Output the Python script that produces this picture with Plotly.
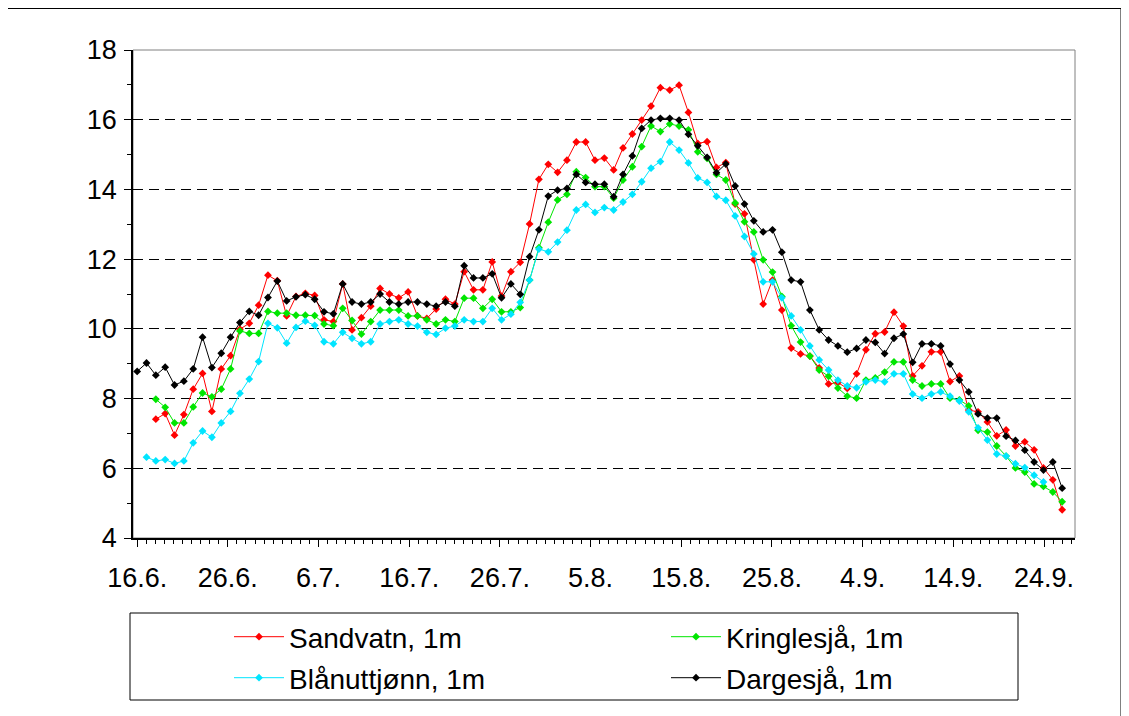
import pandas as pd
import plotly.graph_objects as go

# Sampling: 100 daily-ish readings between the first and last date on the chart
FIRST_DAY = '2005-06-16'
LAST_DAY = '2005-09-26'
N_READINGS = 100

TICK_DATES = ['2005-06-16', '2005-06-26', '2005-07-06', '2005-07-16', '2005-07-26', '2005-08-05',
              '2005-08-15', '2005-08-25', '2005-09-04', '2005-09-14', '2005-09-24']
TICK_LABELS = ['16.6.', '26.6.', '6.7.', '16.7.', '26.7.', '5.8.',
               '15.8.', '25.8.', '4.9.', '14.9.', '24.9.']

# Water temperature at 1 m (deg C), one value per reading, None = no reading
SANDVATN = [
    None, None, 7.41, 7.57, 6.95, 7.54, 8.27, 8.72, 7.63, 8.85,
    9.23, 9.99, 10.16, 10.68, 11.54, 11.38, 10.37, 10.93, 11.02, 10.96,
    10.26, 10.21, 11.29, 9.97, 10.32, 10.65, 11.16, 11.00, 10.89, 11.06,
    10.37, 10.30, 10.57, 10.85, 10.71, 11.64, 11.12, 11.12, 11.92, 10.94,
    11.64, 11.91, 13.01, 14.29, 14.72, 14.49, 14.84, 15.36, 15.36, 14.84,
    14.90, 14.56, 15.19, 15.59, 15.99, 16.39, 16.92, 16.85, 16.99, 16.21,
    15.32, 15.37, 14.63, 14.77, 13.58, 13.30, 11.98, 10.71, 11.40, 10.54,
    9.45, 9.28, 9.22, 8.88, 8.42, 8.46, 8.29, 8.71, 9.40, 9.86,
    9.91, 10.48, 10.08, 8.65, 8.94, 9.34, 9.34, 8.49, 8.65, 7.67,
    7.62, 7.33, 6.93, 7.10, 6.64, 6.76, 6.53, 6.01, 5.67, 4.81,
]
KRINGLESJA = [
    None, None, 7.98, 7.75, 7.30, 7.30, 7.76, 8.16, 8.05, 8.27,
    8.85, 9.94, 9.87, 9.87, 10.50, 10.45, 10.45, 10.39, 10.39, 10.38,
    10.14, 10.09, 10.59, 10.24, 9.85, 10.21, 10.54, 10.54, 10.54, 10.37,
    10.37, 10.26, 10.14, 10.26, 10.21, 10.88, 10.88, 10.59, 10.85, 10.49,
    10.49, 10.61, 11.40, 12.33, 13.06, 13.70, 13.86, 14.51, 14.34, 14.08,
    14.08, 13.75, 14.27, 14.65, 15.23, 15.82, 15.66, 15.88, 15.82, 15.71,
    15.08, 14.89, 14.43, 14.27, 13.61, 13.07, 12.78, 11.98, 11.63, 10.93,
    10.09, 9.62, 9.22, 8.82, 8.64, 8.30, 8.07, 8.01, 8.53, 8.59,
    8.76, 9.05, 9.05, 8.53, 8.36, 8.42, 8.42, 8.01, 7.96, 7.79,
    7.09, 7.04, 6.64, 6.35, 6.01, 5.89, 5.55, 5.48, 5.32, 5.04,
]
BLANUTTJONN = [
    None, 6.32, 6.21, 6.25, 6.14, 6.21, 6.73, 7.07, 6.89, 7.30,
    7.63, 8.15, 8.56, 9.06, 10.16, 10.03, 9.59, 10.04, 10.22, 10.10,
    9.63, 9.57, 9.90, 9.73, 9.57, 9.63, 10.14, 10.21, 10.26, 10.14,
    10.08, 9.90, 9.84, 10.02, 10.08, 10.26, 10.21, 10.21, 10.59, 10.26,
    10.42, 10.76, 11.40, 12.29, 12.21, 12.49, 12.83, 13.41, 13.57, 13.34,
    13.48, 13.41, 13.64, 13.86, 14.22, 14.61, 14.80, 15.36, 15.13, 14.76,
    14.33, 14.20, 13.80, 13.69, 13.24, 12.65, 12.15, 11.35, 11.35, 10.89,
    10.37, 9.97, 9.51, 9.11, 8.82, 8.53, 8.36, 8.31, 8.48, 8.53,
    8.48, 8.71, 8.71, 8.13, 8.01, 8.13, 8.19, 8.07, 7.93, 7.62,
    7.16, 6.81, 6.41, 6.35, 6.13, 6.02, 5.80, 5.61, None, None,
]
DARGESJA = [
    8.78, 9.02, 8.67, 8.90, 8.39, 8.50, 8.85, 9.76, 8.89, 9.30,
    9.76, 10.18, 10.50, 10.39, 10.90, 11.37, 10.80, 10.92, 10.98, 10.85,
    10.49, 10.43, 11.29, 10.77, 10.71, 10.77, 11.00, 10.77, 10.71, 10.77,
    10.77, 10.71, 10.65, 10.77, 10.65, 11.81, 11.46, 11.46, 11.58, 10.89,
    11.29, 10.99, 12.07, 12.84, 13.81, 13.98, 14.03, 14.43, 14.20, 14.15,
    14.15, 13.79, 14.43, 14.96, 15.75, 15.99, 16.04, 16.04, 15.99, 15.58,
    15.25, 14.92, 14.48, 14.73, 14.10, 13.58, 13.10, 12.78, 12.84, 12.20,
    11.40, 11.35, 10.54, 9.97, 9.68, 9.51, 9.33, 9.44, 9.68, 9.61,
    9.29, 9.73, 9.85, 9.04, 9.57, 9.57, 9.51, 8.99, 8.53, 8.19,
    7.56, 7.44, 7.44, 6.92, 6.80, 6.52, 6.18, 5.95, 6.18, 5.43,
]

# name, values, colour, legend slot, legend entry position on the page (px)
SERIES = [
    ('Sandvatn, 1m', SANDVATN, '#FF0000', 'legend', (229, 637)),
    ('Kringlesjå, 1m', KRINGLESJA, '#00E600', 'legend2', (666, 637)),
    ('Blånuttjønn, 1m', BLANUTTJONN, '#00E5FF', 'legend3', (229, 678)),
    ('Dargesjå, 1m', DARGESJA, '#000000', 'legend4', (666, 678)),
]

FONT = 'Liberation Sans, Arial, sans-serif'
PAGE_OFFSET = 8          # default body margin of the written html page
W, H = 1129 - PAGE_OFFSET, 716 - PAGE_OFFSET
# plot area on the page, in px
PLOT_L, PLOT_R, PLOT_T, PLOT_B = 133, 1075, 50, 538


def px_x(px):
    return (px - PLOT_L) / (PLOT_R - PLOT_L)


def px_y(py):
    return (PLOT_B - py) / (PLOT_B - PLOT_T)


def build_figure():
    dates = pd.date_range(FIRST_DAY, LAST_DAY, periods=N_READINGS)
    fig = go.Figure()
    legends = {}

    for name, values, color, legend, (lx, ly) in SERIES:
        fig.add_trace(go.Scatter(
            x=dates, y=values, name=name, mode='lines+markers',
            line=dict(color=color, width=1),
            marker=dict(symbol='diamond', size=6, color=color),
            connectgaps=False, legend=legend,
        ))
        legends[legend] = dict(
            xref='container', yref='container',
            x=(lx - PAGE_OFFSET) / W, y=1 - (ly - PAGE_OFFSET) / H,
            xanchor='left', yanchor='middle',
            orientation='h', itemwidth=50,
            font=dict(family=FONT, size=28, color='black'),
            bgcolor='rgba(0,0,0,0)', borderwidth=0,
        )

    fig.update_layout(
        width=W, height=H,
        margin=dict(l=PLOT_L - PAGE_OFFSET, r=W + PAGE_OFFSET - PLOT_R,
                    t=PLOT_T - PAGE_OFFSET, b=H + PAGE_OFFSET - PLOT_B,
                    pad=0, autoexpand=False),
        paper_bgcolor='white', plot_bgcolor='white',
        font=dict(family=FONT, size=27, color='black'),
        showlegend=True,
        **legends,
        xaxis=dict(
            type='date',
            range=['2005-06-15 13:00', '2005-09-27 10:00'],
            tickmode='array', tickvals=TICK_DATES, ticktext=TICK_LABELS,
            ticks='outside', ticklen=7, tickcolor='black',
            ticklabelstandoff=8,
            minor=dict(ticks='outside', ticklen=4, tickcolor='black',
                       dtick=86400000, tick0=FIRST_DAY, showgrid=False),
            showgrid=False, zeroline=False,
            showline=True, linecolor='black', linewidth=1.5,
            tickfont=dict(family=FONT, size=27, color='black'),
        ),
        yaxis=dict(
            range=[4, 18], dtick=2, tick0=4,
            ticks='outside', ticklen=7, tickcolor='black',
            ticklabelstandoff=2,
            minor=dict(ticks='outside', ticklen=4, tickcolor='black',
                       dtick=1, showgrid=False),
            showgrid=True, gridcolor='black', gridwidth=1, griddash='10px,6px',
            zeroline=False,
            showline=True, linecolor='black', linewidth=1.5,
            tickfont=dict(family=FONT, size=27, color='black'),
        ),
    )

    # plot area border (top and right, gray)
    fig.add_shape(type='rect', xref='paper', yref='paper', x0=0, x1=1, y0=0, y1=1,
                  line=dict(color='#808080', width=1), layer='below')
    # legend frame
    fig.add_shape(type='rect', xref='paper', yref='paper',
                  x0=px_x(130), x1=px_x(1018), y0=px_y(700), y1=px_y(613),
                  line=dict(color='black', width=1))
    # chart area frame: top and right edges
    fig.add_shape(type='line', xref='paper', yref='paper',
                  x0=px_x(PAGE_OFFSET), x1=px_x(1121), y0=px_y(8.5), y1=px_y(8.5),
                  line=dict(color='black', width=1))
    fig.add_shape(type='line', xref='paper', yref='paper',
                  x0=px_x(1121), x1=px_x(1121), y0=px_y(8.5), y1=px_y(730),
                  line=dict(color='black', width=1))
    return fig


def main():
    fig = build_figure()
    fig.write_html('out.html')


if __name__ == '__main__':
    main()
